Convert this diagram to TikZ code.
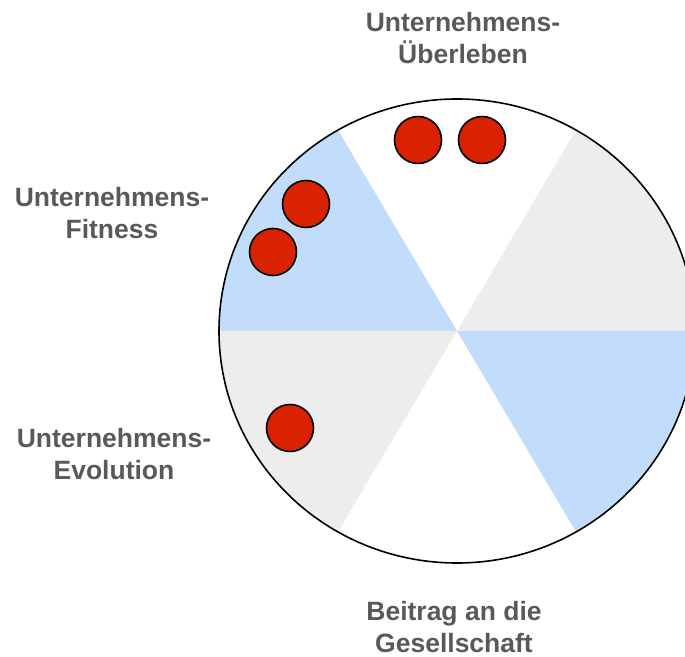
\documentclass[tikz,border=0pt]{standalone}
\usepackage{fontspec}
\setmainfont{Liberation Sans}
\definecolor{sectorblue}{RGB}{194,221,252}
\definecolor{sectorgray}{RGB}{237,237,237}
\definecolor{dotred}{RGB}{217,34,0}
\definecolor{labelgray}{RGB}{89,89,89}
\begin{document}
\begin{tikzpicture}[x=1pt,y=1pt,
  lbl/.style={anchor=base,inner sep=0pt,text=labelgray,font=\bfseries\fontsize{26.5}{31}\selectfont},
  dot/.style={circle,draw=black,line width=1.6pt,fill=dotred,minimum size=47pt,inner sep=0pt}]
\useasboundingbox (0,0) rectangle (685,656);
\clip (0,0) rectangle (685,656);
\coordinate (c) at (457,325);
\fill[sectorgray] (c) -- ++(0:238 and 232) arc[start angle=0,end angle=60,x radius=238,y radius=232] -- cycle;
\fill[sectorblue] (c) -- ++(120:238 and 232) arc[start angle=120,end angle=180,x radius=238,y radius=232] -- cycle;
\fill[sectorgray] (c) -- ++(180:238 and 232) arc[start angle=180,end angle=240,x radius=238,y radius=232] -- cycle;
\fill[sectorblue] (c) -- ++(300:238 and 232) arc[start angle=300,end angle=360,x radius=238,y radius=232] -- cycle;
\draw[line width=1.6pt] (c) ellipse[x radius=238,y radius=232];
\node[dot] (d1) at (418,516) {};
\node[dot] (d2) at (482,516) {};
\node[dot] (d3) at (306,452) {};
\node[dot] (d4) at (273,404) {};
\node[dot] (d5) at (290,228) {};
\node[lbl] (t1) at (463,624.3) {Unternehmens-};
\node[lbl] (t2) at (463,592.7) {Überleben};
\node[lbl] (f1) at (112,449.3) {Unternehmens-};
\node[lbl] (f2) at (112,417) {Fitness};
\node[lbl] (e1) at (114,208) {Unternehmens-};
\node[lbl] (e2) at (114,176) {Evolution};
\node[lbl] (b1) at (454,36) {Beitrag an die};
\node[lbl] (b2) at (454,4) {Gesellschaft};
\end{tikzpicture}
\end{document}
